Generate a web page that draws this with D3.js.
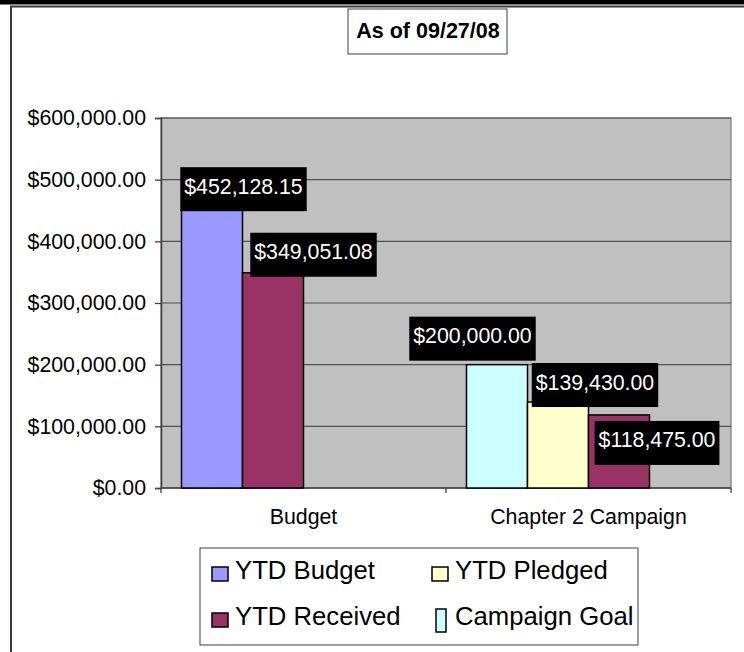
<!DOCTYPE html>
<html>
<head>
<meta charset="utf-8">
<script src="https://cdn.jsdelivr.net/npm/d3@7"></script>
<style>
  body { margin: 0; background: #fff; }
  svg { display: block; font-family: "Liberation Sans", Arial, sans-serif; }
</style>
</head>
<body>
<div id="chart"></div>
<script>
// ---- data ----
const categories = ["Budget", "Chapter 2 Campaign"];
const seriesNames = ["YTD Budget", "YTD Pledged", "YTD Received", "Campaign Goal"];
// bars of each category, in the order they sit inside the cluster
const budgetSeries = ["YTD Budget", "YTD Received"];
const budgetValues = [452128.15, 349051.08];
const campaignSeries = ["Campaign Goal", "YTD Pledged", "YTD Received"];
const campaignValues = [200000, 139430, 118475];
const yTicks = [0, 100000, 200000, 300000, 400000, 500000, 600000];
const titleText = "As of 09/27/08";

// ---- styles ----
const seriesColors = {
	"YTD Budget": "#9999ff",
	"YTD Pledged": "#ffffcc",
	"YTD Received": "#993366",
	"Campaign Goal": "#ccffff"
};
// excel data labels were dragged by hand: offset of the label box centre from the bar centre / top
const labelNudge = {
	"Budget": [[31.5, -42], [40.5, -40]],
	"Chapter 2 Campaign": [[-24.5, -48], [37, -39], [38, 6]]
};
const fontSize = "21.3px";

const W = 744, H = 652;
const plot = { left: 161, right: 731, top: 118, bottom: 488 };

let svg = d3.select("#chart").append("svg")
	.attr("width", W)
	.attr("height", H);

// outer frame: black band on top, grey chart border
svg.append("rect").attr("x", 0).attr("y", 0).attr("width", W).attr("height", 4.5).attr("fill", "#000");
svg.append("path")
	.attr("d", "M11," + H + "V6.5H" + W)
	.attr("fill", "none")
	.attr("stroke", "#3a3a3a")
	.attr("stroke-width", 2);

// scales
let y = d3.scaleLinear()
	.domain([0, 600000])
	.range([plot.bottom, plot.top]);

let x0 = d3.scaleBand()
	.domain(categories)
	.range([plot.left, plot.right])
	.padding(0);

let x1 = d3.scaleBand()
	.domain([0, 1, 2, 3])
	.range([0, x0.bandwidth()])
	.paddingInner(0)
	.paddingOuter(0.336);

// plot area
svg.append("rect")
	.attr("x", plot.left)
	.attr("y", plot.top)
	.attr("width", plot.right - plot.left)
	.attr("height", plot.bottom - plot.top)
	.attr("fill", "#c0c0c0")
	.attr("stroke", "#808080")
	.attr("stroke-width", 1.3);

// gridlines
svg.append("g")
	.selectAll("line")
	.data(yTicks.filter(d => d > 0))
	.enter().append("line")
	.attr("x1", plot.left)
	.attr("x2", plot.right)
	.attr("y1", d => y(d))
	.attr("y2", d => y(d))
	.attr("stroke", "#505050")
	.attr("stroke-width", 1.2);

// y axis
let yAxis = d3.axisLeft(y)
	.tickValues(yTicks)
	.tickSize(6)
	.tickPadding(9)
	.tickFormat(d => "$" + d3.format(",.2f")(d));

let gy = svg.append("g")
	.attr("transform", "translate(" + plot.left + ",0)")
	.call(yAxis);
gy.select(".domain").attr("stroke", "#404040").attr("stroke-width", 1.5);
gy.selectAll(".tick line").attr("stroke", "#404040").attr("stroke-width", 1.3);
gy.selectAll(".tick text")
	.attr("fill", "#000")
	.style("font-family", "'Liberation Sans', Arial, sans-serif")
	.style("font-size", fontSize);

// x axis (labels only, boundary ticks drawn below)
let xAxis = d3.axisBottom(x0).tickSize(0).tickPadding(21);
let gx = svg.append("g")
	.attr("transform", "translate(0," + plot.bottom + ")")
	.call(xAxis);
gx.select(".domain").remove();
gx.selectAll(".tick text")
	.attr("fill", "#000")
	.style("font-family", "'Liberation Sans', Arial, sans-serif")
	.style("font-size", fontSize);

svg.append("line")
	.attr("x1", plot.left).attr("x2", plot.right)
	.attr("y1", plot.bottom).attr("y2", plot.bottom)
	.attr("stroke", "#404040").attr("stroke-width", 1.5);

let boundaries = categories.map(c => x0(c)).concat([x0.range()[1]]);
svg.append("g")
	.selectAll("line")
	.data(boundaries)
	.enter().append("line")
	.attr("x1", d => d).attr("x2", d => d)
	.attr("y1", plot.bottom).attr("y2", plot.bottom + 5)
	.attr("stroke", "#404040").attr("stroke-width", 1.3);

// bars
let barData = [];
budgetSeries.forEach((s, i) => barData.push({ cat: "Budget", slot: i, series: s, value: budgetValues[i] }));
campaignSeries.forEach((s, i) => barData.push({ cat: "Chapter 2 Campaign", slot: i, series: s, value: campaignValues[i] }));

svg.append("g")
	.selectAll("rect")
	.data(barData)
	.enter().append("rect")
	.attr("x", d => x0(d.cat) + x1(d.slot))
	.attr("y", d => y(d.value))
	.attr("width", x1.bandwidth())
	.attr("height", d => y(0) - y(d.value))
	.attr("fill", d => seriesColors[d.series])
	.attr("stroke", "#000")
	.attr("stroke-width", 1.5);

// data labels: black boxes with white text
let labels = svg.append("g")
	.selectAll("g")
	.data(barData)
	.enter().append("g")
	.attr("transform", d => {
		let n = labelNudge[d.cat][d.slot];
		let cx = x0(d.cat) + x1(d.slot) + x1.bandwidth() / 2 + n[0];
		return "translate(" + cx + "," + (y(d.value) + n[1]) + ")";
	});

labels.append("rect").attr("fill", "#000");
labels.append("text")
	.attr("text-anchor", "middle")
	.attr("y", 26.5)
	.attr("fill", "#fff")
	.style("font-size", fontSize)
	.text(d => "$" + d3.format(",.2f")(d.value));

labels.each(function () {
	let g = d3.select(this);
	let w = g.select("text").node().getComputedTextLength() + 8;
	g.select("rect")
		.attr("x", -w / 2)
		.attr("y", 0)
		.attr("width", w)
		.attr("height", 44);
});

// title box
let title = svg.append("g");
title.append("rect")
	.attr("x", 348).attr("y", 9)
	.attr("width", 159).attr("height", 45)
	.attr("fill", "#fff")
	.attr("stroke", "#404040")
	.attr("stroke-width", 1);
title.append("text")
	.attr("x", 428).attr("y", 37.5)
	.attr("text-anchor", "middle")
	.style("font-size", "21.5px")
	.style("font-weight", "bold")
	.text(titleText);

// legend: two columns, filled row by row
let legend = svg.append("g");
legend.append("rect")
	.attr("x", 200).attr("y", 548)
	.attr("width", 438).attr("height", 97)
	.attr("fill", "#fff")
	.attr("stroke", "#404040")
	.attr("stroke-width", 1);

let colX = d3.scaleOrdinal().domain([0, 1]).range([212, 432]);
let rowY = d3.scaleOrdinal().domain([0, 1]).range([579, 625]);

let items = legend.selectAll(".item")
	.data(seriesNames)
	.enter().append("g")
	.attr("class", "item")
	.attr("transform", (d, i) => "translate(" + colX(i % 2) + "," + rowY(Math.floor(i / 2)) + ")");

items.append("rect")
	.attr("x", d => d === "Campaign Goal" ? 4 : 0)
	.attr("y", d => d === "Campaign Goal" ? -16 : -12)
	.attr("width", d => d === "Campaign Goal" ? 10 : 16)
	.attr("height", d => d === "Campaign Goal" ? 23 : 14)
	.attr("fill", d => seriesColors[d])
	.attr("stroke", "#000")
	.attr("stroke-width", 1.5);

items.append("text")
	.attr("x", 23)
	.attr("y", 0)
	.style("font-size", "25.7px")
	.text(d => d);
</script>
</body>
</html>
